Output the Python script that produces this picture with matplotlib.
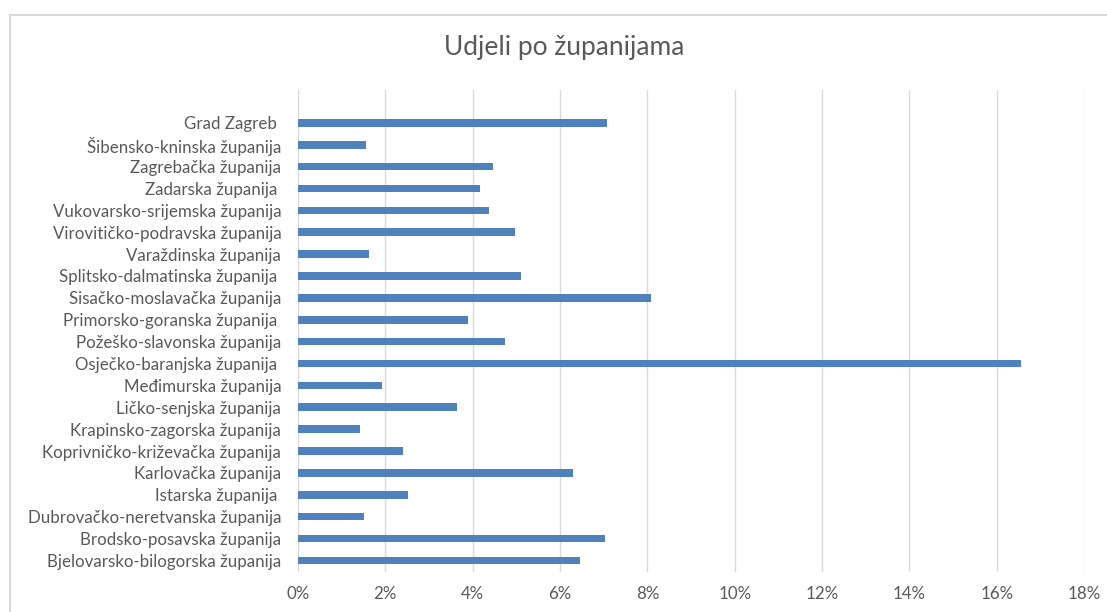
import matplotlib
matplotlib.use("Agg")
import matplotlib.pyplot as plt
from matplotlib.patches import Rectangle
from matplotlib.ticker import PercentFormatter, MultipleLocator

plt.rcParams['font.family'] = ['Lato', 'DejaVu Sans']

categories = [
    "Bjelovarsko-bilogorska županija",
    "Brodsko-posavska županija",
    "Dubrovačko-neretvanska županija",
    "Istarska županija ",
    "Karlovačka županija",
    "Koprivničko-križevačka županija",
    "Krapinsko-zagorska županija",
    "Ličko-senjska županija",
    "Međimurska županija",
    "Osječko-baranjska županija ",
    "Požeško-slavonska županija",
    "Primorsko-goranska županija ",
    "Sisačko-moslavačka županija",
    "Splitsko-dalmatinska županija ",
    "Varaždinska županija",
    "Virovitičko-podravska županija",
    "Vukovarsko-srijemska županija",
    "Zadarska županija ",
    "Zagrebačka županija",
    "Šibensko-kninska županija",
    "Grad Zagreb ",
]
shares = [6.46, 7.03, 1.52, 2.53, 6.30, 2.40, 1.43, 3.63, 1.92, 16.56,
          4.74, 3.90, 8.08, 5.10, 1.63, 4.98, 4.38, 4.17, 4.46, 1.56, 7.08]
title = "Udjeli po županijama"

W, H = 1107, 612
fig = plt.figure(figsize=(W / 100, H / 100), dpi=100)
fig.patch.set_facecolor('white')

# chart border
fig.patches.append(Rectangle((10 / W, -0.1), 1.2, 1 - 15 / H + 0.1,
                             transform=fig.transFigure, fill=False,
                             edgecolor='#d9d9d9', linewidth=1.5))

ax = fig.add_axes([298 / W, 1 - 572 / H, (1084 - 298) / W, (572 - 90) / H])
y = list(range(len(categories)))
ax.barh(y, shares, height=0.35, color='#4f81bd', zorder=3)
ax.set_ylim(-0.53, 21.5)
ax.set_xlim(0, 18)
ax.xaxis.set_major_locator(MultipleLocator(2))
ax.xaxis.set_major_formatter(PercentFormatter(decimals=0))
ax.set_yticks(y)
ax.set_yticklabels(categories)
ax.grid(axis='x', color='#d9d9d9', linewidth=1, zorder=0)
for s in ax.spines.values():
    s.set_visible(False)
ax.tick_params(axis='both', length=0, colors='#595959', labelsize=12.2)
ax.tick_params(axis='y', pad=12)
ax.tick_params(axis='x', pad=10)

fig.text(564 / W, 1 - 48 / H, title, ha='center', va='center',
         fontsize=19, color='#595959')

fig.savefig("out.png", dpi=100, facecolor='white')
